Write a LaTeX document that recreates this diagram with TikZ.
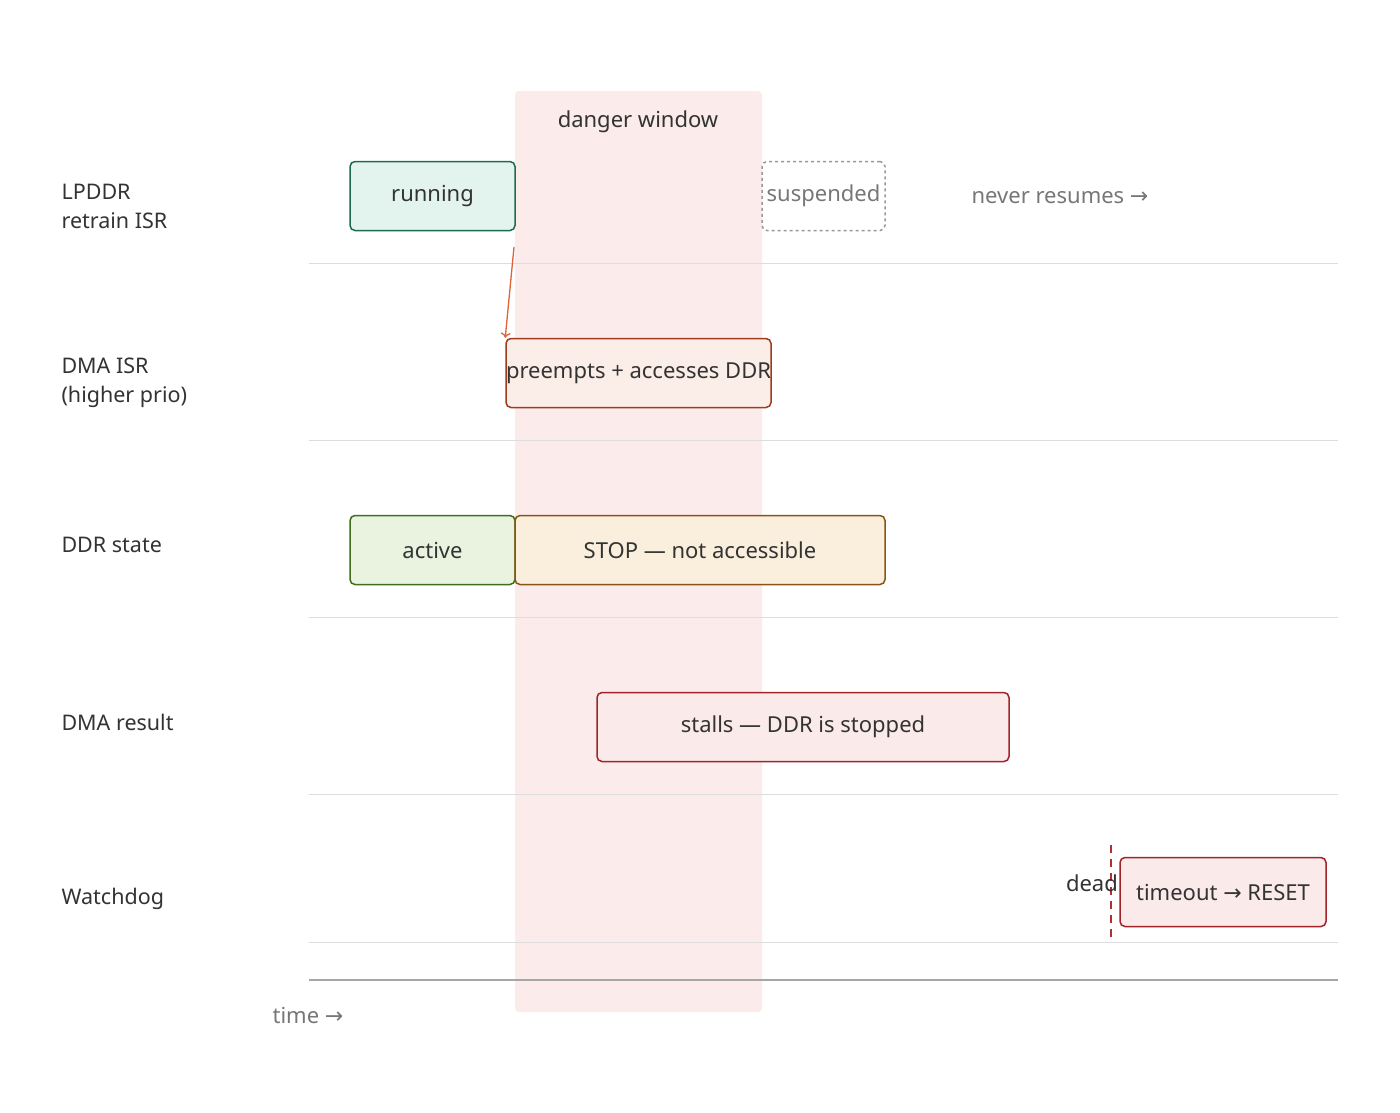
\documentclass[tikz,border=0pt]{standalone}
\usepackage{fontspec}
\setmainfont{Noto Sans}
\newfontfamily\arrfont{DejaVu Sans}
\newcommand{\rarr}{{\arrfont →}}
\usetikzlibrary{arrows.meta,positioning}
\definecolor{winfill}{HTML}{FBEBEB}
\definecolor{txt}{HTML}{333333}
\definecolor{soft}{HTML}{777777}
\definecolor{grline}{HTML}{DDDDDD}
\definecolor{rundraw}{HTML}{1E6B50}
\definecolor{runfill}{HTML}{E3F4EE}
\definecolor{predraw}{HTML}{A03A1E}
\definecolor{prefill}{HTML}{FBEDE7}
\definecolor{actdraw}{HTML}{3F6E1E}
\definecolor{actfill}{HTML}{EAF3E0}
\definecolor{stopdraw}{HTML}{8A5514}
\definecolor{stopfill}{HTML}{FAEEDD}
\definecolor{errdraw}{HTML}{A0242A}
\definecolor{errfill}{HTML}{FBEAEA}
\definecolor{deadline}{HTML}{B03030}
\definecolor{arrowc}{HTML}{E0623A}
\tikzset{
  lane/.style={font=\fontsize{21.5}{29}\selectfont,text=txt,anchor=west,align=left},
  bar/.style={draw,rounded corners=5pt,line width=1.5pt,minimum height=69pt,inner sep=0pt,font=\fontsize{22}{26}\selectfont,text=txt},
  plain/.style={font=\fontsize{22}{26}\selectfont},
}
\begin{document}
\begin{tikzpicture}[x=1pt,y=-1pt]
    \useasboundingbox[fill=white] (0,0) rectangle (1400,1112);
    \fill[winfill,rounded corners=4pt] (515,91) rectangle (762,1012);
    \node[plain,text=txt] (win) at (638,122) {danger window};
    \foreach \y in {263,440,617,794,942}
        \draw[grline,line width=.8pt] (309,\y) -- (1338,\y);
    \draw[black!35,line width=1.2pt] (309,980) -- (1338,980);
    \node[plain,text=soft] (time) at (308,1015) {time \rarr};
    % lane labels
    \node[lane] (l1) at (58,206) {LPDDR\\retrain ISR};
    \node[lane] (l2) at (58,383) {DMA ISR\\(higher prio)};
    \node[lane] (l3) at (58,545) {DDR state};
    \node[lane] (l4) at (58,722) {DMA result};
    \node[lane] (l5) at (58,899) {Watchdog};
    % bars
    \node[bar,draw=rundraw,fill=runfill,minimum width=165pt] (run) at (432.5,196) {running};
    \node[bar,draw=black!40,dashed,text=soft,minimum width=123pt] (susp) at (823.5,196) {suspended};
    \node[plain,text=soft] (never) at (1060,198) {never resumes \rarr};
    \node[bar,draw=predraw,fill=prefill,minimum width=247pt] (pre) at (638.5,373) {preempts + accesses DDR};
    \node[bar,draw=actdraw,fill=actfill,minimum width=165pt] (act) at (432.5,550) {active};
    \node[bar,draw=stopdraw,fill=stopfill,minimum width=370pt] (stop) at (700,550) {STOP — not accessible};
    \node[bar,draw=errdraw,fill=errfill,minimum width=412pt] (stall) at (803,727) {stalls — DDR is stopped};
    \node[bar,draw=errdraw,fill=errfill,minimum width=206pt] (reset) at (1223,892) {timeout \rarr{} RESET};
    % deadline
    \coordinate (dtop) at (1111,845);
    \coordinate (dbot) at (1111,940);
    \draw[deadline,line width=1.5pt,dash pattern=on 8pt off 6pt] (dtop) -- (dbot);
    \node[plain,text=txt,anchor=east,inner sep=1pt] (dead) at (1119,883) {dead};
    % preemption
    \coordinate (pa) at (514,247);
    \draw[-{To[length=5pt,width=10pt]},arrowc,line width=1.3pt] (pa) -- (pre.north west);
\end{tikzpicture}
\end{document}
